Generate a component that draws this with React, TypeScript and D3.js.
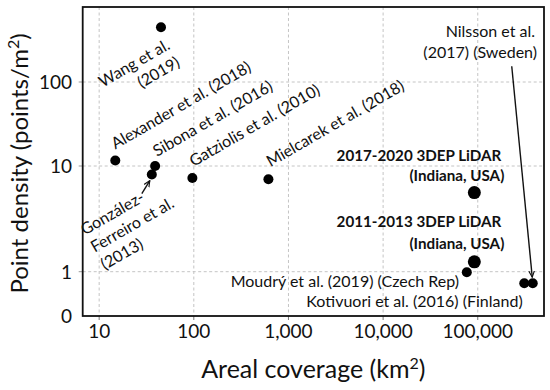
import React from "react";
import * as d3 from "d3";

// ---- data ----
const studyNames = [
  "Wang", "Alexander", "Sibona", "GonzalezFerreiro", "Gatziolis", "Mielcarek",
  "DEP2017", "DEP2011", "Moudry", "Kotivuori", "Nilsson",
];
const arealCoverage = [45, 14.8, 39, 36, 96.6, 614, 92000, 92000, 76600, 310000, 381000];
const pointDensity = [448, 11.6, 10, 8.3, 7.7, 7.5, 5.6, 1.24, 0.986, 0.74, 0.74];
const isHighlighted = [false, false, false, false, false, false, true, true, false, false, false];

const xTicks = [10, 100, 1000, 10000, 100000];
const xTickLabels = ["10", "100", "1,000", "10,000", "100,000"];
const yTicks = [0, 1, 10, 100];
const yTickLabels = ["0", "1", "10", "100"];

const labelLines = [
  ["Wang et al.", "(2019)"],
  ["Alexander et al. (2018)"],
  ["Sibona et al. (2016)"],
  ["González-", "Ferreiro et al.", "(2013)"],
  ["Gatziolis et al. (2010)"],
  ["Mielcarek et al. (2018)"],
  ["2017-2020 3DEP LiDAR", "(Indiana, USA)"],
  ["2011-2013 3DEP LiDAR", "(Indiana, USA)"],
  ["Moudrý et al. (2019) (Czech Rep)"],
  ["Kotivuori et al. (2016) (Finland)"],
  ["Nilsson et al.", "(2017) (Sweden)"],
];

const W = 550, H = 390;
const M = { left: 82.7, right: 544, top: 7, bottom: 316 };
const FONT = "Lato, 'Open Sans', sans-serif";

// piecewise transform: linear below 1, log above
const u = (v: number) => (v < 1 ? v - 1 : Math.log10(v));

export default function App() {
  const x = d3.scaleLog().domain([6.7, 501000]).range([M.left, M.right]);
  const yU = d3.scaleLinear().domain([-1, 0, 1, 2, 2.893]).range([316, 271.7, 166, 82, M.top]);
  const y = (v: number) => yU(u(v));

  const px = arealCoverage.map((a) => x(a));
  const py = pointDensity.map((d) => y(d));

  type Lab = { dx: number; dy: number; rot: number; anchor: string; lh: number; bold?: boolean; size: number; lineDx?: number[] };
  const lab: Lab[] = [
    { dx: 10, dy: 21, rot: -30, anchor: "end", lh: 20, size: 16 },
    { dx: 0, dy: -11, rot: -30, anchor: "start", lh: 20, size: 16 },
    { dx: 2, dy: -9, rot: -30, anchor: "start", lh: 20, size: 16 },
    { dx: -67, dy: 61, rot: -30, anchor: "start", lh: 20, size: 16 },
    { dx: 1, dy: -11, rot: -30, anchor: "start", lh: 20, size: 16 },
    { dx: 2, dy: -12, rot: -30, anchor: "start", lh: 20, size: 16 },
    { dx: 27, dy: -32, rot: 0, anchor: "end", lh: 20.7, size: 15.2, bold: true, lineDx: [0, 3] },
    { dx: 27, dy: -34.4, rot: 0, anchor: "end", lh: 21.7, size: 15.2, bold: true, lineDx: [0, 3] },
    { dx: -7.7, dy: 14.4, rot: 0, anchor: "end", lh: 20, size: 16 },
    { dx: -1.6, dy: 23.4, rot: 0, anchor: "end", lh: 20, size: 16 },
    { dx: 4.3, dy: -246.6, rot: 0, anchor: "end", lh: 21.3, size: 16, lineDx: [-2, 0] },
  ];

  const gonz = studyNames.indexOf("GonzalezFerreiro");
  const nils = studyNames.indexOf("Nilsson");

  return (
    <svg width={W} height={H} style={{ position: "absolute", left: 0, top: 0, background: "#fff" }} fontFamily={FONT}>
      <defs>
        <marker id="arr" viewBox="0 0 10 10" refX="9" refY="5" markerWidth="7" markerHeight="7" orient="auto-start-reverse" markerUnits="userSpaceOnUse">
          <path d="M0,1 L9,5 L0,9" fill="none" stroke="#111" strokeWidth={1.6} />
        </marker>
      </defs>
      {xTicks.map((t) => (
        <line key={"gx" + t} x1={x(t)} x2={x(t)} y1={M.top} y2={M.bottom} stroke="#c4c4c4" strokeWidth={1} strokeDasharray="3,2.5" />
      ))}
      {yTicks.filter((t) => t > 0).map((t) => (
        <line key={"gy" + t} x1={M.left} x2={M.right} y1={y(t)} y2={y(t)} stroke="#c4c4c4" strokeWidth={1} strokeDasharray="3,2.5" />
      ))}
      {xTicks.map((t) => (
        <line key={"tx" + t} x1={x(t)} x2={x(t)} y1={M.bottom} y2={M.bottom + 4} stroke="#777" strokeWidth={1} />
      ))}
      {yTicks.filter((t) => t > 0).map((t) => (
        <line key={"ty" + t} x1={M.left - 4} x2={M.left} y1={y(t)} y2={y(t)} stroke="#999" strokeWidth={1} />
      ))}
      <rect x={M.left} y={M.top} width={M.right - M.left} height={M.bottom - M.top} fill="none" stroke="#111" strokeWidth={1.8} />
      {xTicks.map((t, i) => (
        <text key={"lx" + t} x={x(t)} y={338} textAnchor="middle" fontSize={19} fill="#111">{xTickLabels[i]}</text>
      ))}
      {yTicks.map((t, i) => (
        <text key={"ly" + t} x={72} y={y(t)} dy="0.36em" textAnchor="end" fontSize={19} fill="#111">{yTickLabels[i]}</text>
      ))}
      <text x={(M.left + M.right) / 2} y={378} textAnchor="middle" fontSize={25} fill="#111">
        Areal coverage (km<tspan fontSize={16} dy={-9}>2</tspan><tspan dy={9}>)</tspan>
      </text>
      <text transform={`translate(28,${(M.top + M.bottom) / 2 + 2}) rotate(-90)`} textAnchor="middle" fontSize={24} fill="#111">
        Point density (points/m<tspan fontSize={16} dy={-9}>2</tspan><tspan dy={9}>)</tspan>
      </text>
      <line x1={px[gonz] - 10} y1={py[gonz] + 19} x2={px[gonz] - 2} y2={py[gonz] + 6} stroke="#111" strokeWidth={1.4} markerEnd="url(#arr)" />
      <line x1={px[nils] - 21} y1={py[nils] - 217} x2={px[nils] - 0.5} y2={py[nils] - 6} stroke="#111" strokeWidth={1.4} markerEnd="url(#arr)" />
      {arealCoverage.map((a, i) => (
        <circle key={"p" + i} cx={px[i]} cy={py[i]} r={isHighlighted[i] ? 6.5 : 5} fill="#000" />
      ))}
      {labelLines.map((lines, i) => {
        const L = lab[i];
        return (
          <text key={"t" + i} transform={`translate(${px[i] + L.dx},${py[i] + L.dy}) rotate(${L.rot})`} textAnchor={L.anchor}
            fontSize={L.size} fontWeight={L.bold ? 700 : 400} fill="#111">
            {lines.map((ln, j) => (
              <tspan key={j} x={L.lineDx ? L.lineDx[j] : 0} y={j * L.lh}>{ln}</tspan>
            ))}
          </text>
        );
      })}
    </svg>
  );
}
